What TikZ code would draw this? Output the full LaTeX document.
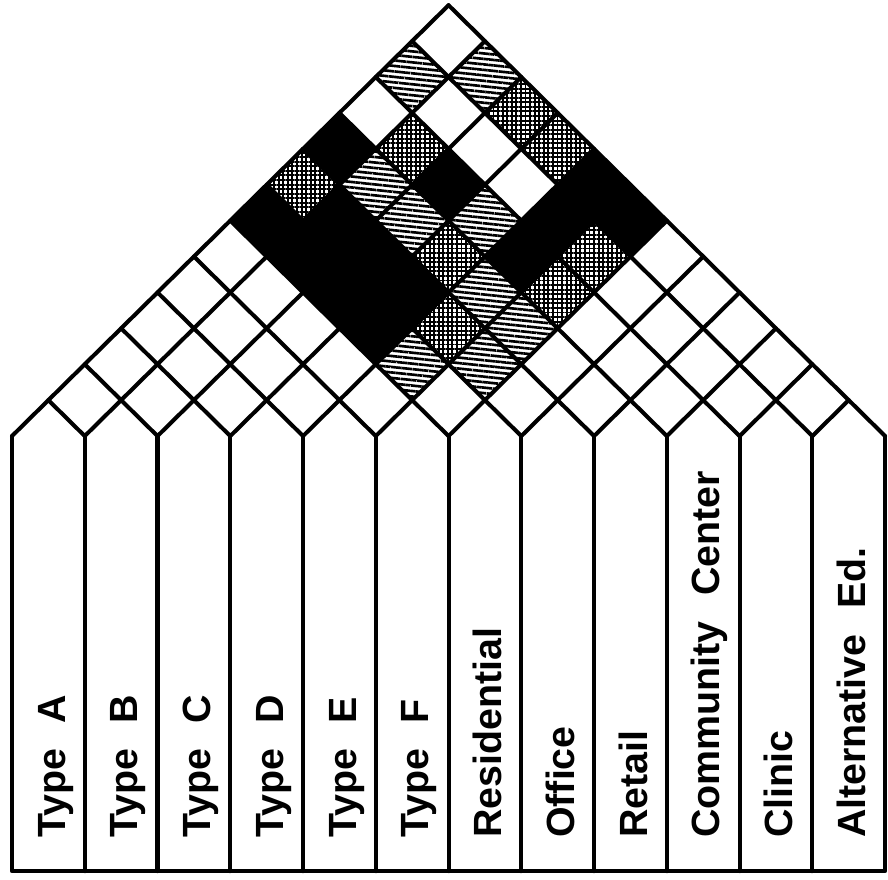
\documentclass[tikz,border=0pt]{standalone}
\usepackage{fontspec}
\setmainfont{Liberation Sans}
\usepackage{tikz}
\usetikzlibrary{patterns.meta}
\newcommand{\mcell}[2]{(#1,#2-1) -- (#1+1,#2) -- (#1,#2+1) -- (#1-1,#2) -- cycle}
\newcommand{\lgap}{\hspace{0.65em}}
\tikzset{
  MLine/.style={line width=2.3pt,line join=round,line cap=round},
  MSolid/.style={fill=black},
  MHatch/.style={pattern={Lines[angle=-6,distance=3.1pt,line width=1.5pt]}},
  MGrid/.style={pattern={Hatch[angle=0,distance=2.6pt,line width=1.1pt]}},
  MLabel/.style={rotate=90,anchor=base west,inner sep=0pt,font=\fontsize{22.4}{25}\selectfont\bfseries}
}

\begin{document}
\begin{tikzpicture}[x=0.7275cm,y=0.718cm]
\path[use as bounding box] (-0.33,-12.34) rectangle (24.08,12.145);
\fill[MSolid] \mcell{9}{8};
\fill[MSolid] \mcell{12}{7};
\fill[MSolid] \mcell{16}{7};
\fill[MSolid] \mcell{7}{6};
\fill[MSolid] \mcell{9}{6};
\fill[MSolid] \mcell{15}{6};
\fill[MSolid] \mcell{17}{6};
\fill[MSolid] \mcell{8}{5};
\fill[MSolid] \mcell{10}{5};
\fill[MSolid] \mcell{14}{5};
\fill[MSolid] \mcell{9}{4};
\fill[MSolid] \mcell{11}{4};
\fill[MSolid] \mcell{10}{3};
\fill[MHatch] \mcell{11}{10};
\fill[MHatch] \mcell{13}{10};
\fill[MHatch] \mcell{10}{7};
\fill[MHatch] \mcell{11}{6};
\fill[MHatch] \mcell{13}{6};
\fill[MHatch] \mcell{13}{4};
\fill[MHatch] \mcell{14}{3};
\fill[MHatch] \mcell{11}{2};
\fill[MHatch] \mcell{13}{2};
\fill[MGrid] \mcell{14}{9};
\fill[MGrid] \mcell{11}{8};
\fill[MGrid] \mcell{15}{8};
\fill[MGrid] \mcell{8}{7};
\fill[MGrid] \mcell{12}{5};
\fill[MGrid] \mcell{16}{5};
\fill[MGrid] \mcell{15}{4};
\fill[MGrid] \mcell{12}{3};
\draw[MLine] (0,0) -- (12,12) (2,0) -- (13,11) (4,0) -- (14,10) (6,0) -- (15,9)
  (8,0) -- (16,8) (10,0) -- (17,7) (12,0) -- (18,6) (14,0) -- (19,5)
  (16,0) -- (20,4) (18,0) -- (21,3) (20,0) -- (22,2) (22,0) -- (23,1);
\draw[MLine] (2,0) -- (1,1) (4,0) -- (2,2) (6,0) -- (3,3) (8,0) -- (4,4)
  (10,0) -- (5,5) (12,0) -- (6,6) (14,0) -- (7,7) (16,0) -- (8,8)
  (18,0) -- (9,9) (20,0) -- (10,10) (22,0) -- (11,11) (24,0) -- (12,12);
\draw[MLine] (0,0) -- (0,-12.12) -- (24,-12.12) -- (24,0);
\draw[MLine] (2,0) -- (2,-12.12) (4,0) -- (4,-12.12) (6,0) -- (6,-12.12)
  (8,0) -- (8,-12.12) (10,0) -- (10,-12.12) (12,0) -- (12,-12.12)
  (14,0) -- (14,-12.12) (16,0) -- (16,-12.12) (18,0) -- (18,-12.12)
  (20,0) -- (20,-12.12) (22,0) -- (22,-12.12);
\node[MLabel] (lA) at (1.46,-11.2) {Type\lgap A};
\node[MLabel] (lB) at (3.46,-11.2) {Type\lgap B};
\node[MLabel] (lC) at (5.46,-11.2) {Type\lgap C};
\node[MLabel] (lD) at (7.46,-11.2) {Type\lgap D};
\node[MLabel] (lE) at (9.46,-11.2) {Type\lgap E};
\node[MLabel] (lF) at (11.46,-11.2) {Type\lgap F};
\node[MLabel] (lRes) at (13.46,-11.2) {Residential};
\node[MLabel] (lOff) at (15.46,-11.2) {Office};
\node[MLabel] (lRet) at (17.46,-11.2) {Retail};
\node[MLabel] (lCom) at (19.46,-11.2) {Community\lgap Center};
\node[MLabel] (lCli) at (21.46,-11.2) {Clinic};
\node[MLabel] (lAlt) at (23.46,-11.2) {Alternative\lgap Ed.};
\end{tikzpicture}
\end{document}
